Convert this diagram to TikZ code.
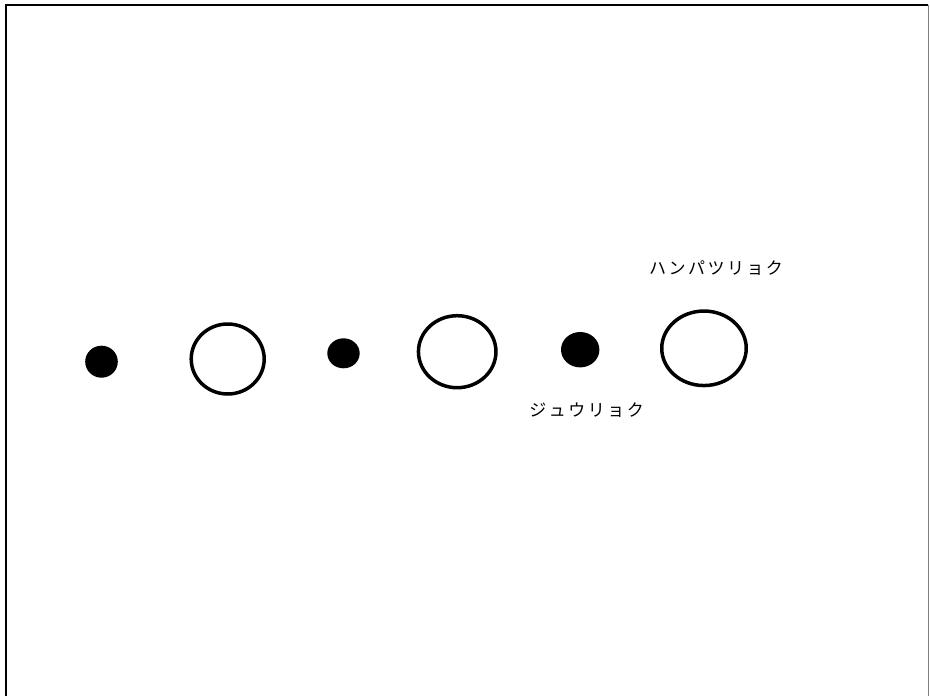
\documentclass[tikz,border=0pt]{standalone}
\usepackage{fontspec}
\newfontfamily\cjk{Noto Sans CJK JP}
\usepackage{tikz}
\usetikzlibrary{shapes.geometric}
\newcommand\ks{\hspace{2.5pt}}

\begin{document}
\begin{tikzpicture}[x=1pt, y=-1pt, font=\cjk\fontsize{17}{19}\selectfont,
  dot/.style={ellipse, fill=black, inner sep=0pt},
  ring/.style={ellipse, draw=black, line width=3.5pt, inner sep=0pt}]
\useasboundingbox (0,0) rectangle (930,696);
% frame
\draw[line width=2pt] (6,696) -- (6,5) -- (928,5);
\draw[black!50, line width=1pt] (928.5,5) -- (928.5,696);
% particles and rings
\node[dot, minimum width=32.6pt, minimum height=32pt] (d1) at (101.5,361.7) {};
\node[ring, minimum width=73pt, minimum height=70pt] (r1) at (227.7,359) {};
\node[dot, minimum width=32.4pt, minimum height=30pt] (d2) at (343.5,353.3) {};
\node[ring, minimum width=77.5pt, minimum height=72pt] (r2) at (457.2,351.7) {};
\node[dot, minimum width=38.4pt, minimum height=35.4pt] (d3) at (580.2,349.7) {};
\node[ring, minimum width=84.5pt, minimum height=74.5pt] (r3) at (704,348.3) {};
% labels
\node (hanpatsu) at (716,268) {ハ\ks ン\ks パ\ks ツ\ks リ\ks ョ\ks ク};
\node (juuryoku) at (586.7,410) {ジ\ks ュ\ks ウ\ks リ\ks ョ\ks ク};
\end{tikzpicture}
\end{document}
